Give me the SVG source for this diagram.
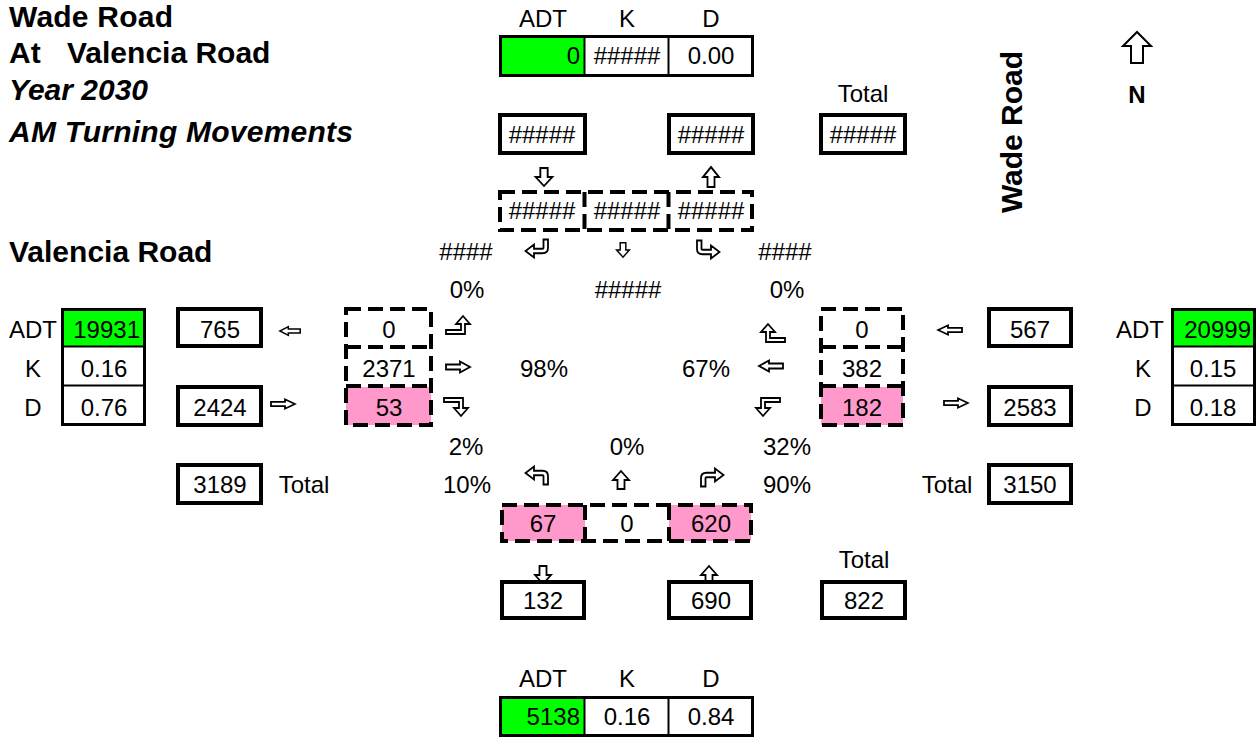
<svg xmlns="http://www.w3.org/2000/svg" width="1258" height="738" viewBox="0 0 1258 738">
<style>
text{font-family:"Liberation Sans",Arial,Helvetica,sans-serif;font-size:24px;fill:#000}
.c{text-anchor:middle}
.r{text-anchor:end}
.h{font-size:30px;font-weight:bold}
.i{font-style:italic}
.b{font-weight:bold}
.box{fill:#fff;stroke:#000;stroke-width:4}
.dash{fill:none;stroke:#000;stroke-width:4;stroke-dasharray:15 7}
.tb{fill:none;stroke:#000;stroke-width:3}
.tl{stroke:#000;stroke-width:2}
.g{fill:#00ff00}
.p{fill:#ff99cc}
.arr{fill:#fff;stroke:#000;stroke-width:1.8;stroke-linejoin:miter}
</style>
<defs>
<path id="ah" d="M-12,-2.5 H2 V-5.5 L12,0 L2,5.5 V2.5 H-12 Z"/>
<path id="av" d="M-3.5,9 V0 H-8 L0,-9 L8,0 H3.5 V9 Z"/>
<path id="at" d="M-14,9 H5 V-1 H10 L3,-9 L-4,-1 H1 V5 H-14 Z"/>
<path id="ac" d="M-8.5,11 H0 Q5.25,11 5.25,5.5 V-3 H9.5 L3,-11.5 L-3.5,-3 H0.75 V5.5 Q0.75,6.5 0,6.5 H-8.5 Z"/>
</defs>
<rect x="0" y="0" width="1258" height="738" fill="#fff"/>

<g id="titles">
<text x="9" y="27" class="h" textLength="164">Wade Road</text>
<text x="9" y="63" class="h">At<tspan x="67">Valencia Road</tspan></text>
<text x="9" y="100" class="h i">Year 2030</text>
<text x="9" y="142" class="h i" textLength="344">AM Turning Movements</text>
<text x="9" y="262" class="h">Valencia Road</text>
<text class="h c" transform="translate(1022,132) rotate(-90)">Wade Road</text>
</g>

<g id="north">
<path d="M-6,15 V-2 H-14 L0,-16 L14,-2 H6 V15 Z" transform="translate(1137,48)" fill="#fff" stroke="#000" stroke-width="2"/>
<text x="1137" y="103" class="c b">N</text>
</g>

<g id="connectors">
<use href="#av" class="arr" transform="translate(544,177) scale(1.05,-1)"/>
<use href="#av" class="arr" transform="translate(711,177) scale(1,1.1)"/>
<use href="#ac" class="arr" transform="translate(537,248) matrix(0,1,1,0,0,0)"/>
<use href="#av" class="arr" transform="translate(623,250) scale(0.8,-0.8)"/>
<use href="#ac" class="arr" transform="translate(708,249) rotate(90)"/>
<use href="#at" class="arr" transform="translate(460,325)"/>
<use href="#ah" class="arr" transform="translate(458,367)"/>
<use href="#at" class="arr" transform="translate(458,407) scale(1,-1)"/>
<use href="#at" class="arr" transform="translate(771,333) scale(-1,1)"/>
<use href="#ah" class="arr" transform="translate(771,366) scale(-1,1)"/>
<use href="#at" class="arr" transform="translate(766,407) rotate(180)"/>
<use href="#ah" class="arr" transform="translate(290,331) scale(-0.85,0.8)"/>
<use href="#ah" class="arr" transform="translate(283,404) scale(1,0.85)"/>
<use href="#ah" class="arr" transform="translate(950,330) scale(-1,0.85)"/>
<use href="#ah" class="arr" transform="translate(956,403) scale(1,0.85)"/>
<use href="#ac" class="arr" transform="translate(537,476) rotate(-90)"/>
<use href="#av" class="arr" transform="translate(621,480)"/>
<use href="#ac" class="arr" transform="translate(712,478) matrix(0,-1,-1,0,0,0)"/>
<use href="#av" class="arr" transform="translate(543,575) scale(1,-1)"/>
<use href="#av" class="arr" transform="translate(709,575)"/>
</g>

<g id="top-adt">
<text x="543" y="27" class="c">ADT</text>
<text x="627" y="27" class="c">K</text>
<text x="711" y="27" class="c">D</text>
<rect x="501" y="38" width="83" height="37" class="g"/>
<rect x="500.5" y="36.5" width="252" height="39" class="tb"/>
<line x1="584.5" y1="37" x2="584.5" y2="76" class="tl"/>
<line x1="668.5" y1="37" x2="668.5" y2="76" class="tl"/>
<text x="580" y="64" class="r">0</text>
<text x="627" y="64" class="c">#####</text>
<text x="711" y="64" class="c">0.00</text>
</g>

<g id="north-in"><rect x="500" y="115" width="85" height="38" class="box"/><text x="542" y="143" class="c">#####</text></g>
<g id="north-out"><rect x="669" y="115" width="84" height="38" class="box"/><text x="711" y="143" class="c">#####</text></g>
<g id="north-total"><text x="863" y="102" class="c">Total</text><rect x="821" y="115" width="84" height="38" class="box"/><text x="863" y="143" class="c">#####</text></g>

<g id="sb-lanes">
<rect x="500" y="192" width="252" height="38" class="dash"/>
<line x1="584.5" y1="192" x2="584.5" y2="230" class="dash"/>
<line x1="668.5" y1="192" x2="668.5" y2="230" class="dash"/>
<text x="542" y="219" class="c">#####</text>
<text x="627" y="219" class="c">#####</text>
<text x="711" y="219" class="c">#####</text>
</g>

<g id="sb-labels">
<text x="466" y="260" class="c">####</text>
<text x="785" y="260" class="c">####</text>
<text x="467" y="298" class="c">0%</text>
<text x="628" y="298" class="c">#####</text>
<text x="787" y="298" class="c">0%</text>
</g>

<g id="west-adt">
<rect x="63" y="310" width="81" height="36" class="g"/>
<rect x="62.5" y="309.5" width="82" height="115" class="tb"/>
<line x1="62" y1="346.5" x2="145" y2="346.5" class="tl"/>
<line x1="62" y1="385.5" x2="145" y2="385.5" class="tl"/>
<text x="33" y="338" class="c">ADT</text>
<text x="33" y="377" class="c">K</text>
<text x="33" y="416" class="c">D</text>
<text x="140" y="338" class="r">19931</text>
<text x="104" y="377" class="c">0.16</text>
<text x="104" y="416" class="c">0.76</text>
</g>

<g id="west-out"><rect x="178" y="309" width="83" height="37" class="box"/><text x="220" y="338" class="c">765</text></g>
<g id="west-in"><rect x="178" y="387" width="83" height="38" class="box"/><text x="220" y="416" class="c">2424</text></g>
<g id="west-total"><rect x="178" y="465" width="83" height="38" class="box"/><text x="220" y="493" class="c">3189</text><text x="304" y="493" class="c">Total</text></g>

<g id="eb-lanes">
<rect x="346" y="387" width="85" height="38" class="p"/>
<rect x="346" y="309" width="85" height="116" class="dash"/>
<line x1="346" y1="347" x2="431" y2="347" class="dash"/>
<line x1="346" y1="386" x2="431" y2="386" class="dash"/>
<text x="389" y="338" class="c">0</text>
<text x="389" y="377" class="c">2371</text>
<text x="389" y="416" class="c">53</text>
</g>

<g id="wb-lanes">
<rect x="821" y="387" width="82" height="38" class="p"/>
<rect x="821" y="309" width="82" height="116" class="dash"/>
<line x1="821" y1="347" x2="903" y2="347" class="dash"/>
<line x1="821" y1="386" x2="903" y2="386" class="dash"/>
<text x="862" y="338" class="c">0</text>
<text x="862" y="377" class="c">382</text>
<text x="862" y="416" class="c">182</text>
</g>

<g id="percents">
<text x="544" y="377" class="c">98%</text>
<text x="706" y="377" class="c">67%</text>
<text x="466" y="455" class="c">2%</text>
<text x="467" y="493" class="c">10%</text>
<text x="627" y="455" class="c">0%</text>
<text x="787" y="455" class="c">32%</text>
<text x="787" y="493" class="c">90%</text>
</g>

<g id="east-in"><rect x="989" y="309" width="82" height="37" class="box"/><text x="1030" y="338" class="c">567</text></g>
<g id="east-out"><rect x="989" y="387" width="82" height="38" class="box"/><text x="1030" y="416" class="c">2583</text></g>
<g id="east-total"><rect x="989" y="465" width="82" height="38" class="box"/><text x="1030" y="493" class="c">3150</text><text x="947" y="493" class="c">Total</text></g>

<g id="east-adt">
<rect x="1174" y="311" width="79" height="35" class="g"/>
<rect x="1172.5" y="309.5" width="82" height="115" class="tb"/>
<line x1="1172" y1="346.5" x2="1255" y2="346.5" class="tl"/>
<line x1="1172" y1="385.5" x2="1255" y2="385.5" class="tl"/>
<text x="1140" y="338" class="c">ADT</text>
<text x="1143" y="377" class="c">K</text>
<text x="1143" y="416" class="c">D</text>
<text x="1251" y="338" class="r">20999</text>
<text x="1213" y="377" class="c">0.15</text>
<text x="1213" y="416" class="c">0.18</text>
</g>

<g id="nb-lanes">
<rect x="502" y="505" width="83" height="36" class="p"/>
<rect x="669" y="505" width="82" height="36" class="p"/>
<rect x="502" y="505" width="249" height="36" class="dash"/>
<line x1="585" y1="505" x2="585" y2="541" class="dash"/>
<line x1="669" y1="505" x2="669" y2="541" class="dash"/>
<text x="543" y="532" class="c">67</text>
<text x="627" y="532" class="c">0</text>
<text x="711" y="532" class="c">620</text>
</g>

<g id="south-out"><rect x="502" y="582" width="82" height="36" class="box"/><text x="543" y="609" class="c">132</text></g>
<g id="south-in"><rect x="669" y="582" width="82" height="36" class="box"/><text x="711" y="609" class="c">690</text></g>
<g id="south-total"><text x="864" y="568" class="c">Total</text><rect x="822" y="582" width="83" height="36" class="box"/><text x="864" y="609" class="c">822</text></g>

<g id="south-adt">
<text x="543" y="687" class="c">ADT</text>
<text x="627" y="687" class="c">K</text>
<text x="711" y="687" class="c">D</text>
<rect x="501" y="699" width="83" height="36" class="g"/>
<rect x="500.5" y="697.5" width="252" height="38" class="tb"/>
<line x1="584.5" y1="698" x2="584.5" y2="736" class="tl"/>
<line x1="668.5" y1="698" x2="668.5" y2="736" class="tl"/>
<text x="580" y="725" class="r">5138</text>
<text x="627" y="725" class="c">0.16</text>
<text x="711" y="725" class="c">0.84</text>
</g>
</svg>
